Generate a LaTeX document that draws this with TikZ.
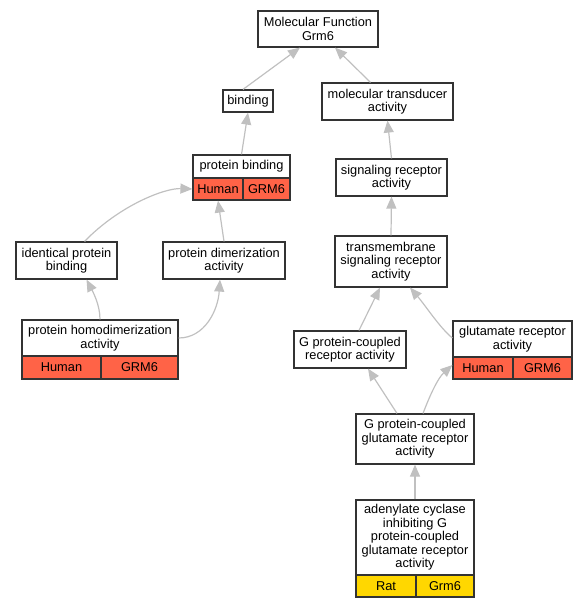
\documentclass[tikz,border=0pt]{standalone}
\usepackage{fontspec}
\setmainfont{Liberation Sans}
\usetikzlibrary{arrows.meta}
\definecolor{tomatored}{HTML}{FF6347}
\definecolor{goldband}{HTML}{FFD700}
\definecolor{edgegray}{HTML}{C0C0C0}
\tikzset{
  term/.style={draw=black!80, fill=white, line width=1.2pt, align=center, inner sep=0pt,
    font=\fontsize{12.8}{13.5}\selectfont},
  humancell/.style={term, fill=tomatored},
  ratcell/.style={term, fill=goldband},
  edge/.style={draw=edgegray, line width=1.2pt, -{Triangle[length=12pt,width=10pt]}}
}
\begin{document}
\begin{tikzpicture}[x=1pt,y=1pt]
\useasboundingbox (0,0) rectangle (587,-608);
% terms, top to bottom
\node[term, minimum width=120, minimum height=36] (mf) at (318,-29) {Molecular Function\\Grm6};
\node[term, minimum width=50, minimum height=22] (binding) at (248,-101) {binding};
\node[term, minimum width=131, minimum height=37] (moltrans) at (387.5,-101.5) {molecular transducer\\activity};
\node[term, minimum width=97, minimum height=23] (protbind) at (241.5,-166.5) {protein binding};
\node[humancell, minimum width=50, minimum height=22] (protbindH) at (218,-189) {Human};
\node[humancell, minimum width=47, minimum height=22] (protbindG) at (266.5,-189) {GRM6};
\node[term, minimum width=111, minimum height=37] (sigrec) at (391.5,-177.5) {signaling receptor\\activity};
\node[term, minimum width=101, minimum height=37] (identical) at (66.5,-260.5) {identical protein\\binding};
\node[term, minimum width=122, minimum height=37] (dimer) at (224,-260.5) {protein dimerization\\activity};
\node[term, minimum width=112, minimum height=51] (transmem) at (391,-261.5) {transmembrane\\signaling receptor\\activity};
\node[term, minimum width=156, minimum height=36] (homodimer) at (100,-338) {protein homodimerization\\activity};
\node[humancell, minimum width=79, minimum height=23] (homodimerH) at (61.5,-367.5) {Human};
\node[humancell, minimum width=77, minimum height=23] (homodimerG) at (139.5,-367.5) {GRM6};
\node[term, minimum width=112, minimum height=37] (gpcr) at (350,-349.5) {G protein-coupled\\receptor activity};
\node[term, minimum width=119, minimum height=36] (glurec) at (512.5,-339) {glutamate receptor\\activity};
\node[humancell, minimum width=60, minimum height=22] (glurecH) at (483,-368) {Human};
\node[humancell, minimum width=59, minimum height=22] (glurecG) at (542.5,-368) {GRM6};
\node[term, minimum width=118, minimum height=50] (gpcglu) at (415,-439) {G protein-coupled\\glutamate receptor\\activity};
\node[term, minimum width=118, minimum height=75] (adenyl) at (415,-537.5) {adenylate cyclase\\inhibiting G\\protein-coupled\\glutamate receptor\\activity};
\node[ratcell, minimum width=60, minimum height=22] (adenylR) at (386,-586) {Rat};
\node[ratcell, minimum width=58, minimum height=22] (adenylG) at (445,-586) {Grm6};
% straight is_a edges
\foreach \a/\b in {protbind.north/binding.south, sigrec.north/moltrans.south,
    dimer.north/protbindH.south, transmem.north/sigrec.south, adenyl.north/gpcglu.south}
  \draw[edge] (\a) -- (\b);
\draw[edge] ([xshift=-5]binding.north) -- ([xshift=-18]mf.south);
\draw[edge] ([xshift=-17]moltrans.north) -- ([xshift=17]mf.south);
\draw[edge] ([xshift=9]gpcr.north) -- ([xshift=-11]transmem.south);
\draw[edge] ([xshift=-18]gpcglu.north) -- ([xshift=18]gpcr.south);
% curved edges
\draw[edge] ([xshift=18]identical.north) .. controls (120,-205) and (165,-188) .. (protbindH.west);
\draw[edge] (homodimer.north) .. controls (100,-305) and (93,-292) .. ([xshift=20]identical.south);
\draw[edge] (homodimer.east) .. controls (205,-338) and (218,-310) .. ([xshift=-4]dimer.south);
\draw[edge] ([yshift=1]glurec.west) .. controls (440,-328) and (425,-305) .. ([xshift=19]transmem.south);
\draw[edge] ([xshift=8]gpcglu.north) .. controls (430,-395) and (438,-378) .. ([yshift=3]glurecH.west);
\end{tikzpicture}
\end{document}
